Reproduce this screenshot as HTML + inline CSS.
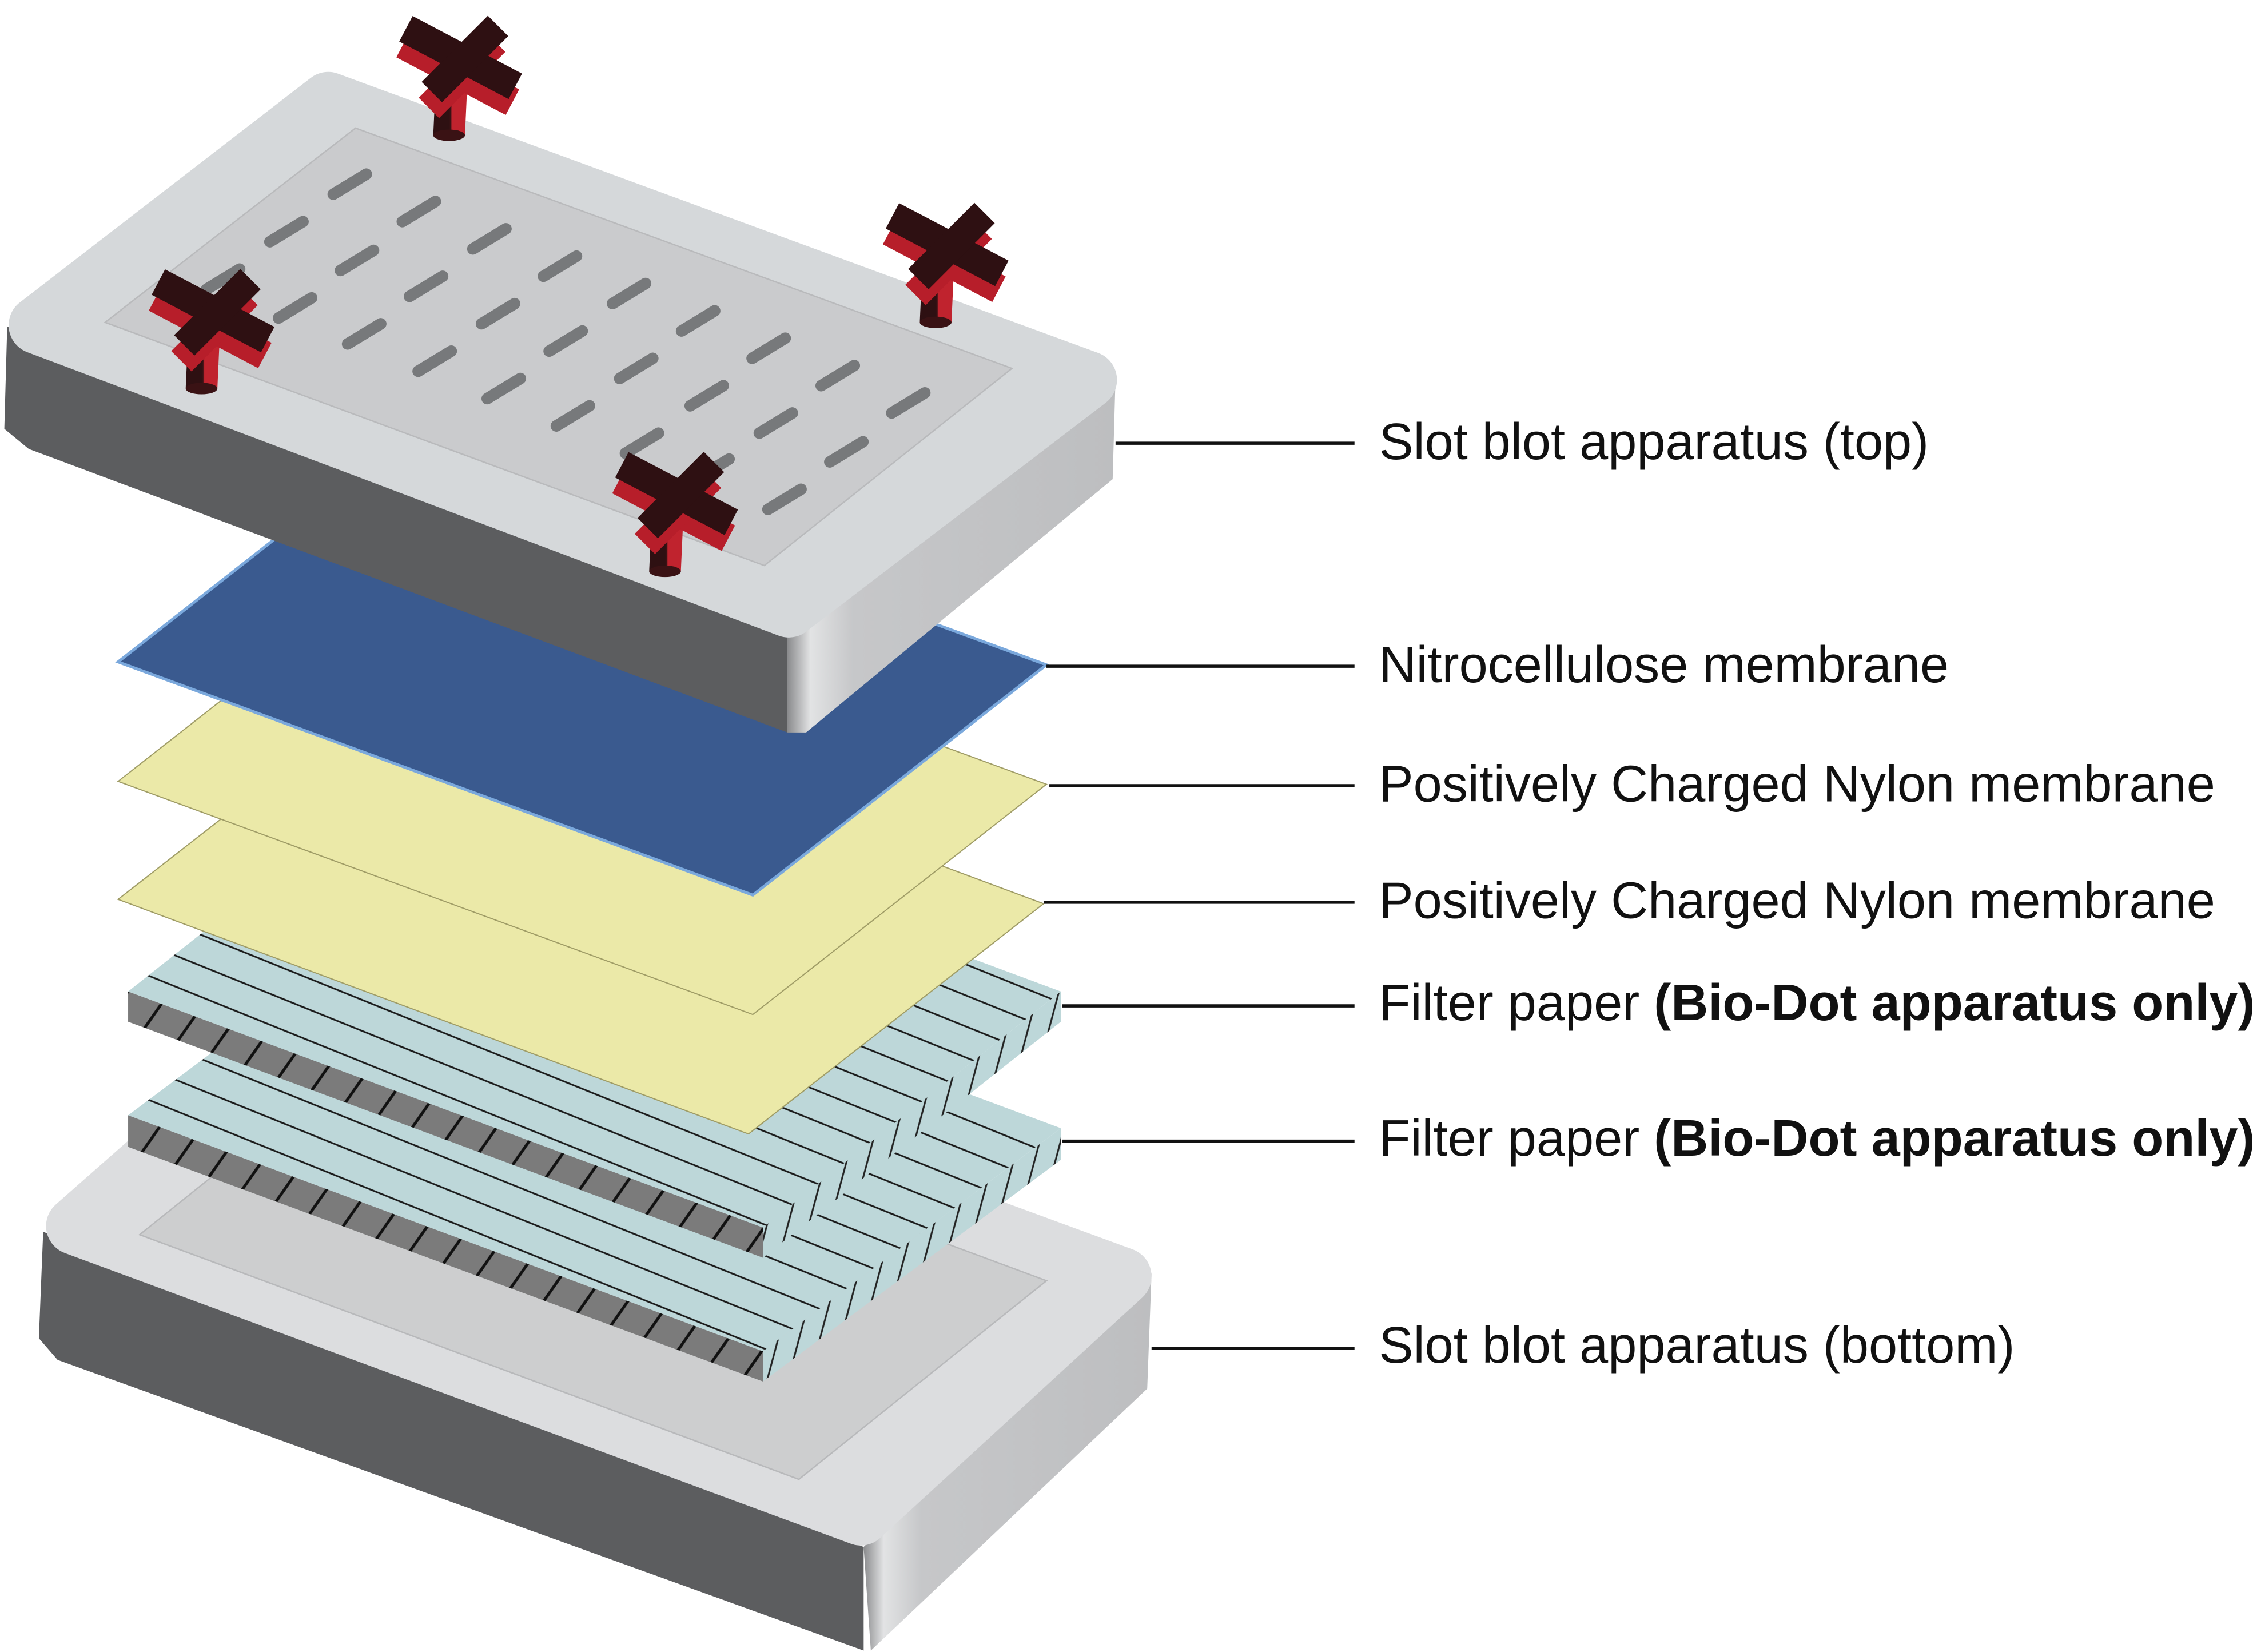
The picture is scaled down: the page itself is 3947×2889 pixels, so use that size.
<!DOCTYPE html>
<html><head><meta charset="utf-8"><style>
html,body{margin:0;padding:0;background:#fff;}
svg{display:block;}
text{font-family:"Liberation Sans",Arial,sans-serif;font-size:35.8px;fill:#111;}
</style></head><body>
<svg width="3947" height="2889" viewBox="0 0 1568 1148" preserveAspectRatio="none" xmlns="http://www.w3.org/2000/svg">
<defs>
<linearGradient id="rside" x1="0" y1="0" x2="1" y2="0">
<stop offset="0" stop-color="#8a8b8d"/><stop offset="0.07" stop-color="#e2e3e4"/><stop offset="0.2" stop-color="#c6c7c9"/><stop offset="1" stop-color="#bdbec0"/>
</linearGradient>
<linearGradient id="stem" x1="0" y1="0" x2="1" y2="0">
<stop offset="0" stop-color="#2e1012"/><stop offset="0.55" stop-color="#3a1214"/><stop offset="1" stop-color="#c0232e"/>
</linearGradient>
<pattern id="hatch" width="40" height="20" patternUnits="userSpaceOnUse" patternTransform="rotate(22)">
<rect width="40" height="20" fill="#bdd7d9"/>
<line x1="0" y1="10" x2="40" y2="10" stroke="#1a1a1a" stroke-width="1.2"/>
</pattern>
<pattern id="ticks" width="24" height="40" patternUnits="userSpaceOnUse" patternTransform="rotate(35)">
<rect width="24" height="40" fill="#7b7b7b"/>
<line x1="12" y1="0" x2="12" y2="40" stroke="#111" stroke-width="2"/>
</pattern>
<pattern id="ticksR" width="14" height="40" patternUnits="userSpaceOnUse" patternTransform="rotate(15)">
<rect width="14" height="40" fill="#bdd7d9"/>
<line x1="7" y1="0" x2="7" y2="40" stroke="#222" stroke-width="1.2"/>
</pattern>
<g id="cross">
<line x1="-6" y1="6" x2="-8" y2="50" stroke="url(#stem)" stroke-width="22"/>
<ellipse cx="-8" cy="50" rx="11" ry="4" fill="#3a1214"/>
<g transform="translate(0,9)">
<line x1="-40" y1="-22" x2="36" y2="18" stroke="#b71e2a" stroke-width="20"/>
<line x1="24" y1="-24" x2="-22" y2="22" stroke="#b71e2a" stroke-width="20"/>
</g>
<line x1="-38" y1="-24" x2="38" y2="16" stroke="#2e1012" stroke-width="20"/>
<line x1="26" y1="-26" x2="-20" y2="20" stroke="#2e1012" stroke-width="20"/>
</g>
</defs>

<!-- bottom apparatus -->
<polygon points="30,856 600,1075 600,1147 40,945 27,930" fill="#5c5d5f"/>
<polygon points="600,1075 800,885 797,965 605,1147" fill="url(#rside)"/>
<polygon points="52,852 238,688 780,887 598,1054" fill="#dcdddf" stroke="#dcdddf" stroke-width="40" stroke-linejoin="round"/>
<polygon points="97,858 269,720 727,890 555,1028" fill="#cdcecf" stroke="#b8b9bb" stroke-width="1"/>

<!-- filter paper 2 -->
<polygon points="89,775 530,939 530,960 89,797" fill="url(#ticks)"/>
<polygon points="530,939 737,784 737,806 530,960" fill="url(#ticksR)"/>
<polygon points="89,775 296,620 737,784 530,939" fill="url(#hatch)"/>

<!-- filter paper 1 -->
<polygon points="89,689 530,853 530,874 89,710" fill="url(#ticks)"/>
<polygon points="530,853 737,689 737,710 530,874" fill="url(#ticksR)"/>
<polygon points="89,689 296,525 737,689 530,853" fill="url(#hatch)"/>

<!-- yellow membranes -->
<polygon points="82,625 287,465 725,628 520,788" fill="#ebe9a8" stroke="#9f9c66" stroke-width="0.8"/>
<polygon points="82,543 286,383 727,545 523,705" fill="#ebe9a8" stroke="#9f9c66" stroke-width="0.8"/>
<!-- blue membrane -->
<polygon points="82,460 286,300 727,462 523,622" fill="#3a5a8f" stroke="#7aa8dc" stroke-width="2"/>

<!-- top apparatus -->
<polygon points="5,227 547,442 547,509 20,312 3,298" fill="#5c5d5f"/>
<polygon points="547,442 775,262 773,333 560,509 547,509" fill="url(#rside)"/>
<polygon points="26,226 228,70 756,264 548,423" fill="#d5d8da" stroke="#d5d8da" stroke-width="40" stroke-linejoin="round"/>
<polygon points="73,224 247,89 703,256 531,393" fill="#cacbcd" stroke="#b9babc" stroke-width="1"/>
<g stroke="#77797b" stroke-width="8" stroke-linecap="round">
<line x1="231.5" y1="135" x2="254.5" y2="121"/><line x1="279.5" y1="154" x2="302.5" y2="140"/><line x1="328.5" y1="173" x2="351.5" y2="159"/><line x1="377.5" y1="192" x2="400.5" y2="178"/><line x1="425.5" y1="211" x2="448.5" y2="197"/><line x1="473.5" y1="230" x2="496.5" y2="216"/><line x1="522.5" y1="249" x2="545.5" y2="235"/><line x1="570.5" y1="268" x2="593.5" y2="254"/><line x1="619.5" y1="287" x2="642.5" y2="273"/>
<line x1="187.5" y1="168" x2="210.5" y2="154"/><line x1="236.5" y1="188" x2="259.5" y2="174"/><line x1="284.5" y1="206" x2="307.5" y2="192"/><line x1="334.5" y1="225" x2="357.5" y2="211"/><line x1="381.5" y1="244" x2="404.5" y2="230"/><line x1="430.5" y1="263" x2="453.5" y2="249"/><line x1="479.5" y1="282" x2="502.5" y2="268"/><line x1="527.5" y1="301" x2="550.5" y2="287"/><line x1="576.5" y1="321" x2="599.5" y2="307"/>
<line x1="143.5" y1="201" x2="166.5" y2="187"/><line x1="193.5" y1="221" x2="216.5" y2="207"/><line x1="241.5" y1="239" x2="264.5" y2="225"/><line x1="290.5" y1="258" x2="313.5" y2="244"/><line x1="338.5" y1="277" x2="361.5" y2="263"/><line x1="386.5" y1="296" x2="409.5" y2="282"/><line x1="434.5" y1="315" x2="457.5" y2="301"/><line x1="483.5" y1="333" x2="506.5" y2="319"/><line x1="533.5" y1="354" x2="556.5" y2="340"/>
</g>
<use href="#cross" transform="translate(320,44)"/>
<use href="#cross" transform="translate(658,174)"/>
<use href="#cross" transform="translate(148,220)"/>
<use href="#cross" transform="translate(470,347)"/>

<!-- labels -->
<g stroke="#111" stroke-width="2.2">
<line x1="775" y1="308" x2="941" y2="308"/>
<line x1="727" y1="463" x2="941" y2="463"/>
<line x1="729" y1="546" x2="941" y2="546"/>
<line x1="725" y1="627" x2="941" y2="627"/>
<line x1="738" y1="699" x2="941" y2="699"/>
<line x1="738" y1="793" x2="941" y2="793"/>
<line x1="800" y1="937" x2="941" y2="937"/>
</g>
<text x="958" y="319">Slot blot apparatus (top)</text>
<text x="958" y="474">Nitrocellulose membrane</text>
<text x="958" y="557">Positively Charged Nylon membrane</text>
<text x="958" y="638">Positively Charged Nylon membrane</text>
<text x="958" y="709">Filter paper <tspan font-weight="bold">(Bio-Dot apparatus only)</tspan></text>
<text x="958" y="803">Filter paper <tspan font-weight="bold">(Bio-Dot apparatus only)</tspan></text>
<text x="958" y="947">Slot blot apparatus (bottom)</text>
</svg>
</body></html>
